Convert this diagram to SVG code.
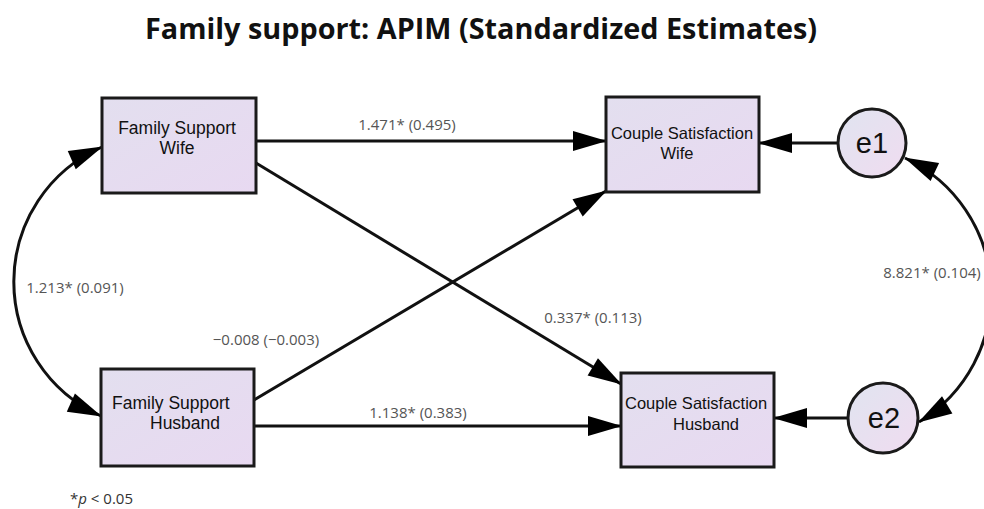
<svg xmlns="http://www.w3.org/2000/svg" width="984" height="509" viewBox="0 0 984 509">
  <style>
    .title { font-family: "Open Sans", "Noto Sans", "DejaVu Sans", sans-serif; font-weight: bold; font-size: 29px; fill: #111; }
    .box { fill: url(#boxFill); stroke: #1a1a1a; stroke-width: 3; }
    .err { fill: url(#errFill); stroke: #1a1a1a; stroke-width: 3; }
    .lbl { font-family: "Liberation Sans", Arial, sans-serif; fill: #111; }
    .big { font-size: 17.5px; }
    .mid { font-size: 16.5px; }
    .etxt { font-family: "Liberation Sans", Arial, sans-serif; font-size: 29px; fill: #111; text-anchor: middle; }
    .est { font-family: "Open Sans", "Noto Sans", sans-serif; font-size: 15px; fill: #555; text-anchor: middle; }
    .note { font-family: "Open Sans", "Noto Sans", sans-serif; font-size: 15px; fill: #333; }
    .path { fill: none; stroke: #111; stroke-width: 3; }
  </style>
  <defs>
    <linearGradient id="boxFill" x1="0" y1="0" x2="1" y2="1">
      <stop offset="0" stop-color="#e3dfef"/>
      <stop offset="1" stop-color="#e8d9f1"/>
    </linearGradient>
    <linearGradient id="errFill" x1="0" y1="0" x2="1" y2="1">
      <stop offset="0" stop-color="#e0e4f0"/>
      <stop offset="1" stop-color="#f0dcf0"/>
    </linearGradient>
    <marker id="arrow" markerUnits="userSpaceOnUse" markerWidth="34" markerHeight="20" refX="33" refY="10" orient="auto-start-reverse" overflow="visible">
      <path d="M0,0 L34,10 L0,20 z" fill="#000"/>
    </marker>
  </defs>

  <text class="title" x="145" y="39" textLength="672" lengthAdjust="spacingAndGlyphs">Family support: APIM (Standardized Estimates)</text>

  <!-- connectors -->
  <g id="connectors">
    <!-- actor effects -->
    <line class="path" x1="256" y1="141" x2="606" y2="141" marker-end="url(#arrow)"/>
    <line class="path" x1="254" y1="426" x2="621" y2="426" marker-end="url(#arrow)"/>
    <!-- partner effects -->
    <line class="path" x1="256" y1="163" x2="621" y2="384" marker-end="url(#arrow)"/>
    <line class="path" x1="254" y1="400" x2="606" y2="191" marker-end="url(#arrow)"/>
    <!-- residuals -->
    <line class="path" x1="838" y1="143" x2="759" y2="143" marker-end="url(#arrow)"/>
    <line class="path" x1="848" y1="418" x2="774" y2="418" marker-end="url(#arrow)"/>
    <!-- covariances -->
    <path class="path" d="M102,147 A147,147 0 0 0 101,416" marker-start="url(#arrow)" marker-end="url(#arrow)"/>
    <path class="path" d="M905,158 A150,150 0 0 1 919,422" marker-start="url(#arrow)" marker-end="url(#arrow)"/>

    <text class="est" x="407" y="130">1.471* (0.495)</text>
    <text class="est" x="418" y="418">1.138* (0.383)</text>
    <text class="est" x="593" y="323">0.337* (0.113)</text>
    <text class="est" x="266" y="345">−0.008 (−0.003)</text>
    <text class="est" x="75" y="293">1.213* (0.091)</text>
    <text class="est" x="932" y="278">8.821* (0.104)</text>
  </g>

  <g id="fs-wife">
    <rect class="box" x="102" y="98" width="154" height="95"/>
    <text class="lbl big" x="177" y="134" text-anchor="middle">Family Support</text>
    <text class="lbl big" x="177" y="154" text-anchor="middle">Wife</text>
  </g>

  <g id="fs-husband">
    <rect class="box" x="101" y="369" width="153" height="97"/>
    <text class="lbl big" x="112" y="409">Family Support</text>
    <text class="lbl big" x="150" y="429">Husband</text>
  </g>

  <g id="cs-wife">
    <rect class="box" x="606" y="97" width="153" height="95"/>
    <text class="lbl mid" x="682" y="139" text-anchor="middle">Couple Satisfaction</text>
    <text class="lbl mid" x="677" y="159" text-anchor="middle">Wife</text>
  </g>

  <g id="cs-husband">
    <rect class="box" x="621" y="373" width="153" height="94"/>
    <text class="lbl mid" x="625" y="409">Couple Satisfaction</text>
    <text class="lbl mid" x="673" y="430">Husband</text>
  </g>

  <g id="e1">
    <circle class="err" cx="872" cy="143" r="34"/>
    <text class="etxt" x="872" y="153">e1</text>
  </g>

  <g id="e2">
    <circle class="err" cx="883" cy="418" r="35"/>
    <text class="etxt" x="884" y="428">e2</text>
  </g>

  <text class="note" x="70" y="504">*<tspan font-style="italic">p</tspan> &lt; 0.05</text>
</svg>
